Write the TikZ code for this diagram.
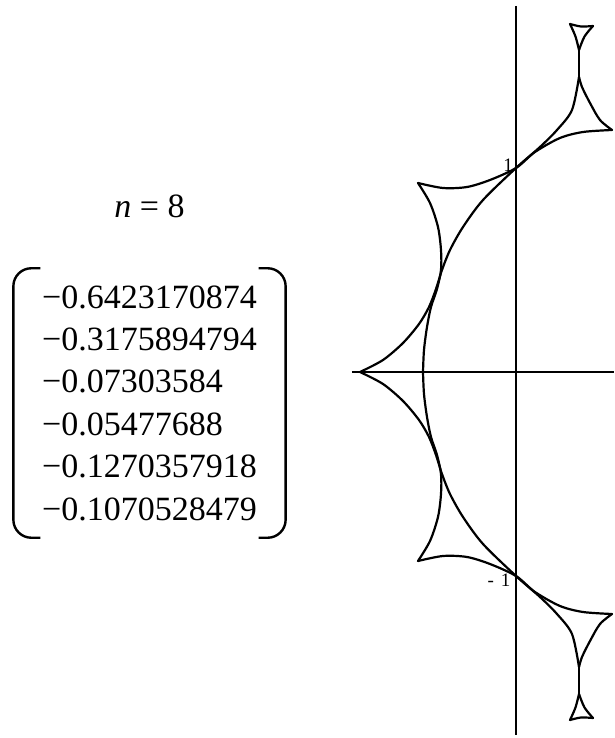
\documentclass[tikz,border=0pt]{standalone}
\usepackage{fontspec}
\setmainfont{Liberation Serif}
\usetikzlibrary{positioning}
\tikzset{
  curve/.style={line width=2.2pt, line join=round, line cap=round},
  axis/.style={line width=1.6pt},
  vec/.style={align=left, inner xsep=28.6pt, inner ysep=17pt, font=\fontsize{34}{42.4}\selectfont},
  eqn/.style={inner sep=0pt, font=\fontsize{34}{40}\selectfont},
  tick/.style={inner sep=0pt, font=\fontsize{19}{19}\selectfont},
  paren/.style={line width=2.4pt, rounded corners=18pt},
}
% one half of the curve, mirrored below
\newcommand{\halfcurve}{
  \draw[curve] plot[smooth] coordinates {(-156,0) (-133,12) (-113,29) (-97,48) (-87,65) (-80,83) (-74,102) (-66,122) (-53,145) (-33,172) (0,204) (24,225) (41,242) (56,262) (63,295)};
  \draw[curve] plot[smooth] coordinates {(-98,189) (-73,184) (-49,185) (-26,192) (0,204) (19,220) (44,234) (67,240) (96,242)};
  \draw[curve] plot[smooth] coordinates {(96,242) (84,252) (74,269) (66,285) (63,295)};
  \draw[curve] (63,295) -- (63,322);
  \draw[curve] plot[smooth] coordinates {(63,322) (59.5,335.5) (54,348)};
  \draw[curve] plot[smooth] coordinates {(54,348) (65,345.5) (77,346)};
  \draw[curve] plot[smooth] coordinates {(77,346) (68.5,335.5) (63,322)};
  \draw[curve] plot[smooth] coordinates {(-98,189) (-86,169) (-78,145) (-75,122) (-75,102) (-79,83) (-85,65) (-89,45) (-92,22) (-93,0)};
}
\begin{document}
\begin{tikzpicture}[x=1pt, y=1pt]
\useasboundingbox (-516,-366) rectangle (98,372);
% axes
\draw[axis] (-164,0) -- (98,0);
\draw[axis] (0,366) -- (0,-363);
\node[tick] (one) at (-8,207) {1};
\node[tick] (minusone) at (-17,-208) {-\kern7pt1};
% curve
\foreach \s in {1,-1} {
  \begin{scope}[yscale=\s]
    \halfcurve
  \end{scope}
}
% coefficient vector
\node[vec] (coeffs) at (-366.5,-31) {−0.6423170874\\−0.3175894794\\−0.07303584\\−0.05477688\\−0.1270357918\\−0.1070528479};
\node[eqn, above=50pt of coeffs] (order) {\textit{n} = 8};
\draw[paren] ([xshift=27pt]coeffs.north west) -- (coeffs.north west) -- (coeffs.south west) -- ([xshift=27pt]coeffs.south west);
\draw[paren] ([xshift=-27pt]coeffs.north east) -- (coeffs.north east) -- (coeffs.south east) -- ([xshift=-27pt]coeffs.south east);
\end{tikzpicture}
\end{document}
